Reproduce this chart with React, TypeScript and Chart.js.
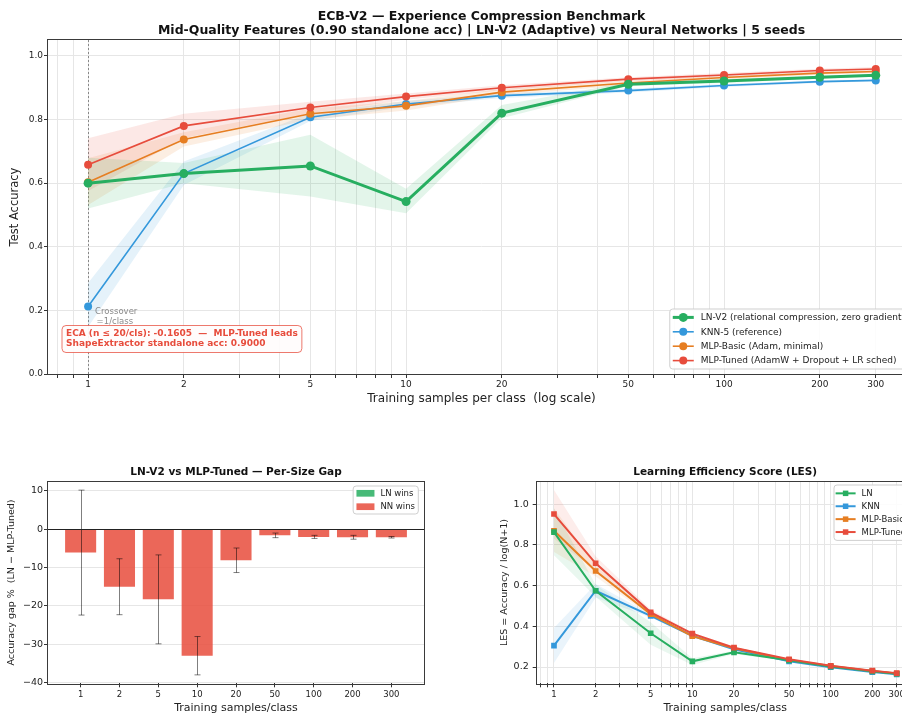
import React, { useEffect, useRef } from 'react';
import { Chart, registerables } from 'chart.js';

Chart.register(...registerables);

const FONT = "'DejaVu Sans', 'Liberation Sans', sans-serif";
Chart.defaults.font.family = FONT;
Chart.defaults.color = '#222';

// ---------------- data ----------------
const SIZES = [1, 2, 5, 10, 20, 50, 100, 200, 300];
const SIZE_LABELS = ['1', '2', '5', '10', '20', '50', '100', '200', '300'];
const LOG_GRID = [0.8, 0.9, 1, 2, 3, 4, 5, 6, 7, 8, 9, 10, 20, 30, 40, 50, 60, 70, 80, 90, 100, 200, 300];

const TOP_TITLE = [
  'ECB-V2 — Experience Compression Benchmark',
  'Mid-Quality Features (0.90 standalone acc) | LN-V2 (Adaptive) vs Neural Networks | 5 seeds',
];
const SERIES_NAMES = [
  'LN-V2 (relational compression, zero gradient)',
  'KNN-5 (reference)',
  'MLP-Basic (Adam, minimal)',
  'MLP-Tuned (AdamW + Dropout + LR sched)',
];
const LES_NAMES = ['LN', 'KNN', 'MLP-Basic', 'MLP-Tuned'];
const ECA_LINES = ['ECA (n ≤ 20/cls): -0.1605  —  MLP-Tuned leads', 'ShapeExtractor standalone acc: 0.9000'];
const CROSS_LINES = ['Crossover', '=1/class'];

const LN_ACC = [0.600, 0.630, 0.654, 0.542, 0.820, 0.911, 0.921, 0.933, 0.939];
const LN_LO = [0.520, 0.600, 0.558, 0.505, 0.804, 0.905, 0.915, 0.928, 0.935];
const LN_HI = [0.680, 0.663, 0.752, 0.582, 0.846, 0.917, 0.927, 0.938, 0.943];
const KNN_ACC = [0.212, 0.630, 0.807, 0.849, 0.875, 0.891, 0.907, 0.919, 0.923];
const KNN_LO = [0.148, 0.594, 0.795, 0.840, 0.868, 0.885, 0.902, 0.915, 0.920];
const KNN_HI = [0.286, 0.668, 0.820, 0.858, 0.882, 0.897, 0.912, 0.923, 0.926];
const BASIC_ACC = [0.603, 0.737, 0.818, 0.843, 0.886, 0.915, 0.932, 0.946, 0.951];
const BASIC_LO = [0.531, 0.715, 0.800, 0.828, 0.876, 0.908, 0.926, 0.941, 0.946];
const BASIC_HI = [0.678, 0.760, 0.835, 0.858, 0.896, 0.922, 0.938, 0.951, 0.956];
const TUNED_ACC = [0.658, 0.780, 0.838, 0.872, 0.900, 0.927, 0.940, 0.954, 0.959];
const TUNED_LO = [0.575, 0.742, 0.820, 0.862, 0.892, 0.921, 0.934, 0.948, 0.953];
const TUNED_HI = [0.741, 0.818, 0.856, 0.882, 0.908, 0.933, 0.946, 0.960, 0.965];
const ACC_TICKS = [0, 0.2, 0.4, 0.6, 0.8, 1.0];

const GAP_TITLE = 'LN-V2 vs MLP-Tuned — Per-Size Gap';
const GAP = [-6.1, -15.0, -18.3, -33.0, -8.1, -1.6, -2.0, -2.1, -2.1];
const GAP_ERR = [16.3, 7.3, 11.6, 5.0, 3.2, 0.6, 0.4, 0.5, 0.2];
const GAP_TICKS = [-40, -30, -20, -10, 0, 10];
const GAP_LEGEND = ['LN wins', 'NN wins'];

const LES_TITLE = 'Learning Efficiency Score (LES)';
const LES_LN = [0.863, 0.575, 0.366, 0.228, 0.272, 0.233, 0.202, 0.179, 0.167];
const LES_LN_LO = [0.750, 0.545, 0.310, 0.210, 0.264, 0.228, 0.199, 0.176, 0.165];
const LES_LN_HI = [0.980, 0.605, 0.420, 0.243, 0.280, 0.238, 0.205, 0.182, 0.169];
const LES_KNN = [0.305, 0.575, 0.451, 0.354, 0.287, 0.228, 0.199, 0.175, 0.164];
const LES_KNN_LO = [0.220, 0.541, 0.443, 0.347, 0.283, 0.225, 0.197, 0.174, 0.163];
const LES_KNN_HI = [0.392, 0.608, 0.459, 0.357, 0.291, 0.231, 0.201, 0.176, 0.165];
const LES_BASIC = [0.870, 0.672, 0.460, 0.352, 0.292, 0.235, 0.205, 0.180, 0.168];
const LES_BASIC_LO = [0.765, 0.645, 0.450, 0.345, 0.287, 0.232, 0.203, 0.178, 0.166];
const LES_BASIC_HI = [0.980, 0.700, 0.470, 0.359, 0.297, 0.238, 0.207, 0.182, 0.170];
const LES_TUNED = [0.952, 0.710, 0.469, 0.364, 0.295, 0.238, 0.206, 0.182, 0.170];
const LES_TUNED_LO = [0.830, 0.675, 0.455, 0.358, 0.290, 0.235, 0.204, 0.180, 0.168];
const LES_TUNED_HI = [1.070, 0.745, 0.483, 0.370, 0.300, 0.241, 0.208, 0.184, 0.172];
const LES_TICKS = [0.2, 0.4, 0.6, 0.8, 1.0];

// ---------------- styling ----------------
const GREEN = '#27ae60';
const BLUE = '#3498db';
const ORANGE = '#e67e22';
const RED = '#e74c3c';
const GRID = '#e6e6e6';
const FRAME = '#3a3a3a';

function rgba(hex: string, a: number) {
  const n = parseInt(hex.slice(1), 16);
  return `rgba(${(n >> 16) & 255},${(n >> 8) & 255},${n & 255},${a})`;
}

const pts = (ys: number[]) => SIZES.map((x, i) => ({ x, y: ys[i] }));

function lineDS(label: string, color: string, ys: number[], lw: number, r: number, style: string, order: number) {
  return {
    label, data: pts(ys), borderColor: color, backgroundColor: color, borderWidth: lw,
    pointRadius: r, pointStyle: style, pointBorderWidth: 0, pointBackgroundColor: color,
    fill: false, order, tension: 0,
  };
}
function bandDS(color: string, lo: number[], hi: number[], order: number, alpha: number) {
  return [
    { label: '_hi', data: pts(hi), borderColor: 'rgba(0,0,0,0)', borderWidth: 1, pointRadius: 0, fill: '+1', backgroundColor: rgba(color, alpha), order },
    { label: '_lo', data: pts(lo), borderColor: 'rgba(0,0,0,0)', borderWidth: 1, pointRadius: 0, fill: false, backgroundColor: 'rgba(0,0,0,0)', order },
  ];
}

function logX(min: number, max: number, tickFont: number, tickPad: number, height: number, title: string, titleFont: number, titlePadBottom: number) {
  return {
    type: 'logarithmic', min, max, bounds: 'data',
    afterBuildTicks: (s: any) => { s.min = min; s.max = max; s.ticks = LOG_GRID.filter(v => v >= min && v <= max).map(v => ({ value: v })); },
    afterFit: (s: any) => { s.height = height; },
    ticks: {
      autoSkip: false, maxRotation: 0, minRotation: 0, padding: tickPad, font: { size: tickFont }, color: '#222',
      callback: (v: any) => { const i = SIZES.indexOf(Number(v)); return i >= 0 ? SIZE_LABELS[i] : ''; },
    },
    grid: { color: GRID, lineWidth: 1, tickLength: 4, tickColor: '#333' },
    border: { display: false },
    title: { display: true, text: title, font: { size: titleFont }, color: '#222', padding: { top: 0, bottom: titlePadBottom } },
  };
}

function linY(min: number, max: number, ticks: number[], fmt: (v: number) => string, tickFont: number, tickPad: number, width: number, title: string, titleFont: number, titlePadTop: number) {
  return {
    type: 'linear', min, max,
    afterBuildTicks: (s: any) => { s.min = min; s.max = max; s.ticks = ticks.map(v => ({ value: v })); },
    afterFit: (s: any) => { s.width = width; },
    ticks: { padding: tickPad, font: { size: tickFont }, color: '#222', callback: (v: any) => fmt(Number(v)) },
    grid: { color: GRID, lineWidth: 1, tickLength: 4, tickColor: '#333' },
    border: { display: false },
    title: { display: true, text: title, font: { size: titleFont }, color: '#222', padding: { top: titlePadTop, bottom: 0 } },
  };
}

function roundRect(ctx: CanvasRenderingContext2D, x: number, y: number, w: number, h: number, r: number) {
  ctx.beginPath();
  ctx.moveTo(x + r, y);
  ctx.lineTo(x + w - r, y);
  ctx.arcTo(x + w, y, x + w, y + r, r);
  ctx.lineTo(x + w, y + h - r);
  ctx.arcTo(x + w, y + h, x + w - r, y + h, r);
  ctx.lineTo(x + r, y + h);
  ctx.arcTo(x, y + h, x, y + h - r, r);
  ctx.lineTo(x, y + r);
  ctx.arcTo(x, y, x + r, y, r);
  ctx.closePath();
}

function drawFrame(chart: any) {
  const { ctx, chartArea: a } = chart;
  ctx.save();
  ctx.strokeStyle = FRAME;
  ctx.lineWidth = 1;
  ctx.strokeRect(Math.round(a.left) - 0.5, Math.round(a.top) - 0.5, Math.round(a.right - a.left) + 1, Math.round(a.bottom - a.top) + 1);
  ctx.restore();
}

type LegItem = { label: string; color: string; kind: 'line' | 'patch'; lw?: number; marker?: 'circle' | 'rect'; r?: number };
function drawLegend(ctx: CanvasRenderingContext2D, items: LegItem[], o: any) {
  ctx.save();
  ctx.font = `${o.font}px ${FONT}`;
  const tw = Math.max(...items.map(it => ctx.measureText(it.label).width));
  const w = o.padL + o.handleW + o.gap + tw + o.padR;
  const h = o.padY * 2 + o.rowH * items.length;
  const x = o.right - w;
  const y = o.top !== undefined ? o.top : o.bottom - h;
  roundRect(ctx, x, y, w, h, 3);
  ctx.fillStyle = 'rgba(255,255,255,0.85)';
  ctx.fill();
  ctx.strokeStyle = '#cfcfcf';
  ctx.lineWidth = 1;
  ctx.stroke();
  items.forEach((it, i) => {
    const cy = y + o.padY + o.rowH * (i + 0.5);
    const hx = x + o.padL;
    if (it.kind === 'patch') {
      ctx.fillStyle = it.color;
      ctx.fillRect(hx, cy - o.handleH / 2, o.handleW, o.handleH);
    } else {
      ctx.strokeStyle = it.color;
      ctx.lineWidth = it.lw || 1.5;
      ctx.beginPath();
      ctx.moveTo(hx, cy);
      ctx.lineTo(hx + o.handleW, cy);
      ctx.stroke();
      ctx.fillStyle = it.color;
      const r = it.r || 3.5;
      const mx = hx + o.handleW / 2;
      if (it.marker === 'rect') {
        ctx.fillRect(mx - r * 0.72, cy - r * 0.72, r * 1.44, r * 1.44);
      } else {
        ctx.beginPath();
        ctx.arc(mx, cy, r, 0, Math.PI * 2);
        ctx.fill();
      }
    }
    ctx.fillStyle = '#222';
    ctx.textBaseline = 'middle';
    ctx.textAlign = 'left';
    ctx.fillText(it.label, hx + o.handleW + o.gap, cy + 0.5);
  });
  ctx.restore();
}

const baseOptions = (padding: any, title: any) => ({
  responsive: false,
  maintainAspectRatio: false,
  animation: false,
  events: [],
  layout: { padding },
  plugins: {
    legend: { display: false },
    tooltip: { enabled: false },
    title,
  },
});

// ---------------- charts ----------------
function makeTop(canvas: HTMLCanvasElement) {
  const deco = {
    id: 'topDeco',
    beforeDatasetsDraw(chart: any) {
      const { ctx, chartArea: a, scales } = chart;
      const x = Math.round(scales.x.getPixelForValue(SIZES[0])) + 0.5;
      ctx.save();
      ctx.strokeStyle = '#888';
      ctx.lineWidth = 1;
      ctx.setLineDash([2, 2]);
      ctx.beginPath();
      ctx.moveTo(x, a.top);
      ctx.lineTo(x, a.bottom);
      ctx.stroke();
      ctx.restore();
    },
    afterDatasetsDraw(chart: any) {
      drawFrame(chart);
    },
    afterDraw(chart: any) {
      const { ctx, chartArea: a, scales } = chart;
      ctx.save();
      const cx = scales.x.getPixelForValue(SIZES[0]) + 7;
      const cy = scales.y.getPixelForValue(0.2);
      ctx.font = `8.5px ${FONT}`;
      ctx.fillStyle = '#8a8a8a';
      ctx.textBaseline = 'middle';
      ctx.textAlign = 'left';
      ctx.fillText(CROSS_LINES[0], cx, cy + 1);
      ctx.fillText(CROSS_LINES[1], cx + 1.5, cy + 11.5);
      ctx.font = `bold 9px ${FONT}`;
      const tw = Math.max(...ECA_LINES.map(l => ctx.measureText(l).width));
      const bx = a.left + 14;
      const bh = 27;
      const by = a.bottom - 21.5 - bh;
      roundRect(ctx, bx, by, tw + 8, bh, 4);
      ctx.fillStyle = 'rgba(255,252,252,0.92)';
      ctx.fill();
      ctx.strokeStyle = rgba(RED, 0.75);
      ctx.lineWidth = 1;
      ctx.stroke();
      ctx.fillStyle = RED;
      ctx.fillText(ECA_LINES[0], bx + 4, by + 8.3);
      ctx.fillText(ECA_LINES[1], bx + 4, by + 18.5);
      ctx.restore();
      drawLegend(ctx, [
        { label: SERIES_NAMES[0], color: GREEN, kind: 'line', lw: 3, r: 4.5 },
        { label: SERIES_NAMES[1], color: BLUE, kind: 'line', lw: 1.6, r: 4 },
        { label: SERIES_NAMES[2], color: ORANGE, kind: 'line', lw: 1.6, r: 4 },
        { label: SERIES_NAMES[3], color: RED, kind: 'line', lw: 1.6, r: 4 },
      ], { right: a.right - 5, bottom: a.bottom - 5, font: 9, rowH: 14.4, padY: 1.2, padL: 3, handleW: 21, gap: 7, padR: 5 });
    },
  };
  return new Chart(canvas, {
    type: 'line',
    data: {
      datasets: [
        lineDS(SERIES_NAMES[0], GREEN, LN_ACC, 3, 4.5, 'circle', 0),
        lineDS(SERIES_NAMES[3], RED, TUNED_ACC, 1.6, 4, 'circle', 1),
        lineDS(SERIES_NAMES[2], ORANGE, BASIC_ACC, 1.6, 4, 'circle', 2),
        lineDS(SERIES_NAMES[1], BLUE, KNN_ACC, 1.6, 4, 'circle', 3),
        ...bandDS(GREEN, LN_LO, LN_HI, 4, 0.13),
        ...bandDS(RED, TUNED_LO, TUNED_HI, 5, 0.13),
        ...bandDS(ORANGE, BASIC_LO, BASIC_HI, 6, 0.13),
        ...bandDS(BLUE, KNN_LO, KNN_HI, 7, 0.13),
      ] as any,
    },
    options: {
      ...baseOptions({ left: 0, right: 15, top: 0, bottom: 0 }, {
        display: true, text: TOP_TITLE, fullSize: false, color: '#111',
        font: { size: 12.5, weight: 'bold', lineHeight: 1.12 }, padding: { top: 10, bottom: 2 },
      }),
      scales: {
        x: logX(0.748, 398.6, 9, 1, 38, 'Training samples per class  (log scale)', 12, 5.8),
        y: linY(0, 1.05, ACC_TICKS, v => v.toFixed(1), 9, 1, 48, 'Test Accuracy', 11.5, 8),
      },
    } as any,
    plugins: [deco],
  });
}

function makeGap(canvas: HTMLCanvasElement) {
  const deco = {
    id: 'gapDeco',
    afterDatasetsDraw(chart: any) {
      const { ctx, chartArea: a, scales } = chart;
      ctx.save();
      ctx.strokeStyle = 'rgba(0,0,0,0.5)';
      ctx.lineWidth = 1;
      GAP.forEach((g, i) => {
        const x = Math.round(scales.x.getPixelForValue(i)) + 0.5;
        const y1 = scales.y.getPixelForValue(g + GAP_ERR[i]);
        const y2 = scales.y.getPixelForValue(g - GAP_ERR[i]);
        ctx.beginPath();
        ctx.moveTo(x, y1); ctx.lineTo(x, y2);
        ctx.moveTo(x - 3, y1); ctx.lineTo(x + 3, y1);
        ctx.moveTo(x - 3, y2); ctx.lineTo(x + 3, y2);
        ctx.stroke();
      });
      const y0 = Math.round(scales.y.getPixelForValue(0)) + 0.5;
      ctx.strokeStyle = '#222';
      ctx.lineWidth = 1;
      ctx.beginPath();
      ctx.moveTo(a.left, y0); ctx.lineTo(a.right, y0);
      ctx.stroke();
      ctx.restore();
      drawFrame(chart);
    },
    afterDraw(chart: any) {
      const { ctx, chartArea: a } = chart;
      drawLegend(ctx, [
        { label: GAP_LEGEND[0], color: rgba(GREEN, 0.85), kind: 'patch' },
        { label: GAP_LEGEND[1], color: rgba(RED, 0.85), kind: 'patch' },
      ], { right: a.right - 5.7, top: a.top + 4.3, font: 8.5, rowH: 13.4, padY: 0.6, padL: 3.3, handleW: 18, handleH: 6.7, gap: 6, padR: 3.3 });
    },
  };
  return new Chart(canvas, {
    type: 'bar',
    data: {
      datasets: [{
        label: 'gap', data: GAP.map((g, i) => ({ x: i, y: g })),
        backgroundColor: rgba(RED, 0.85), borderWidth: 0, categoryPercentage: 1, barPercentage: 0.8,
      }] as any,
    },
    options: {
      ...baseOptions({ left: 0, right: 16, top: 0, bottom: 0 }, {
        display: true, text: GAP_TITLE, fullSize: false, color: '#111',
        font: { size: 10.5, weight: 'bold', lineHeight: 1.2 }, padding: { top: 10.7, bottom: 3.4 },
      }),
      scales: {
        x: {
          type: 'linear', offset: false, min: -0.84, max: 8.84,
          afterBuildTicks: (s: any) => { s.min = -0.84; s.max = 8.84; s.ticks = SIZE_LABELS.map((_, i) => ({ value: i })); },
          afterFit: (s: any) => { s.height = 41.7; },
          ticks: { autoSkip: false, maxRotation: 0, minRotation: 0, padding: 2.6, font: { size: 8.5 }, color: '#222', callback: (v: any) => SIZE_LABELS[Number(v)] ?? '' },
          grid: { offset: false, color: 'rgba(0,0,0,0)', tickLength: 4, tickColor: '#333' },
          border: { display: false },
          title: { display: true, text: 'Training samples/class', font: { size: 11 }, color: '#222', padding: { top: 0, bottom: 10.4 } },
        },
        y: linY(-40.2, 12.4, GAP_TICKS, v => (v < 0 ? '−' + Math.abs(v) : String(v)), 9.5, 1, 48, 'Accuracy gap %  (LN − MLP-Tuned)', 9.5, 6),
      },
    } as any,
    plugins: [deco],
  });
}

function makeLes(canvas: HTMLCanvasElement) {
  const deco = {
    id: 'lesDeco',
    afterDatasetsDraw(chart: any) { drawFrame(chart); },
    afterDraw(chart: any) {
      const { ctx, chartArea: a } = chart;
      drawLegend(ctx, [
        { label: LES_NAMES[0], color: GREEN, kind: 'line', lw: 2, r: 3.8 },
        { label: LES_NAMES[1], color: BLUE, kind: 'line', lw: 2, r: 3.8 },
        { label: LES_NAMES[2], color: ORANGE, kind: 'line', lw: 2, r: 3.8 },
        { label: LES_NAMES[3], color: RED, kind: 'line', lw: 2, r: 3.8 },
      ].map(it => ({ ...it, marker: 'rect' as const })), { right: a.right - 4.5, top: a.top + 3.3, font: 8.5, rowH: 12.9, padY: 1.9, padL: 1.6, handleW: 20, gap: 6, padR: 3 });
    },
  };
  return new Chart(canvas, {
    type: 'line',
    data: {
      datasets: [
        lineDS(LES_NAMES[3], RED, LES_TUNED, 2, 4, 'rect', 0),
        lineDS(LES_NAMES[0], GREEN, LES_LN, 2, 4, 'rect', 1),
        lineDS(LES_NAMES[2], ORANGE, LES_BASIC, 2, 4, 'rect', 2),
        lineDS(LES_NAMES[1], BLUE, LES_KNN, 2, 4, 'rect', 3),
        ...bandDS(GREEN, LES_LN_LO, LES_LN_HI, 4, 0.1),
        ...bandDS(RED, LES_TUNED_LO, LES_TUNED_HI, 5, 0.1),
        ...bandDS(ORANGE, LES_BASIC_LO, LES_BASIC_HI, 6, 0.1),
        ...bandDS(BLUE, LES_KNN_LO, LES_KNN_HI, 7, 0.1),
      ] as any,
    },
    options: {
      ...baseOptions({ left: 0, right: 16.3, top: 0, bottom: 0 }, {
        display: true, text: LES_TITLE, fullSize: false, color: '#111',
        font: { size: 10.5, weight: 'bold', lineHeight: 1.2 }, padding: { top: 10.7, bottom: 3.4 },
      }),
      scales: {
        x: logX(0.75, 398, 8.5, 2.6, 41.7, 'Training samples/class', 11, 10.4),
        y: linY(0.12, 1.111, LES_TICKS, v => v.toFixed(1), 9.5, 4, 66.7, 'LES = Accuracy / log(N+1)', 9.5, 29.3),
      },
    } as any,
    plugins: [deco],
  });
}

export default function App() {
  const topRef = useRef<HTMLCanvasElement>(null);
  const gapRef = useRef<HTMLCanvasElement>(null);
  const lesRef = useRef<HTMLCanvasElement>(null);

  useEffect(() => {
    const charts: Chart[] = [];
    if (topRef.current) charts.push(makeTop(topRef.current));
    if (gapRef.current) charts.push(makeGap(gapRef.current));
    if (lesRef.current) charts.push(makeLes(lesRef.current));
    return () => charts.forEach(c => c.destroy());
  }, []);

  return (
    <div style={{ position: 'fixed', left: 0, top: 0, width: 902, height: 713, overflow: 'hidden', background: '#fff' }}>
      <canvas ref={topRef} width={930} height={412} style={{ position: 'absolute', left: 0, top: 0, display: 'block' }} />
      <canvas ref={gapRef} width={440} height={270} style={{ position: 'absolute', left: 0, top: 455, display: 'block' }} />
      <canvas ref={lesRef} width={460} height={270} style={{ position: 'absolute', left: 470, top: 455, display: 'block' }} />
    </div>
  );
}
